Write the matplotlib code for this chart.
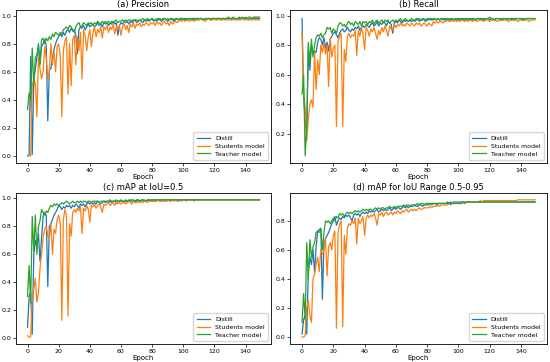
import matplotlib
matplotlib.use("Agg")
import matplotlib.pyplot as plt

# (a) Precision
prec_distill = [
    0.00, 0.01, 0.71, 0.01, 0.55, 0.62, 0.70, 0.80, 0.66, 0.78,
    0.80, 0.83, 0.79, 0.25, 0.62, 0.62, 0.70, 0.76, 0.80, 0.83,
    0.85, 0.87, 0.85, 0.88, 0.86, 0.89, 0.90, 0.88, 0.91, 0.89,
    0.90, 0.86, 0.73, 0.90, 0.92, 0.91, 0.93, 0.90, 0.92, 0.94,
    0.92, 0.93, 0.94, 0.92, 0.93, 0.95, 0.93, 0.94, 0.92, 0.95,
    0.94, 0.95, 0.93, 0.95, 0.94, 0.96, 0.94, 0.95, 0.86, 0.93,
    0.95, 0.94, 0.96, 0.95, 0.96, 0.94, 0.96, 0.95, 0.96, 0.97,
    0.95, 0.96, 0.97, 0.96, 0.95, 0.97, 0.96, 0.97, 0.96, 0.97,
    0.98, 0.96, 0.97, 0.96, 0.98, 0.97, 0.96, 0.97, 0.98, 0.97,
    0.96, 0.97, 0.98, 0.97, 0.96, 0.97, 0.98, 0.97, 0.98, 0.97,
    0.98, 0.97, 0.98, 0.97, 0.98, 0.97, 0.98, 0.98, 0.97, 0.98,
    0.97, 0.98, 0.98, 0.97, 0.98, 0.97, 0.98, 0.98, 0.97, 0.98,
    0.98, 0.97, 0.98, 0.98, 0.97, 0.98, 0.98, 0.97, 0.98, 0.98,
    0.98, 0.97, 0.98, 0.98, 0.98, 0.97, 0.98, 0.98, 0.98, 0.98,
    0.98, 0.98, 0.97, 0.98, 0.98, 0.98, 0.98, 0.98, 0.98, 0.98,
]
prec_student = [
    0.00, 0.00, 0.00, 0.50, 0.55, 0.52, 0.28, 0.70, 0.62, 0.55,
    0.60, 0.78, 0.70, 0.55, 0.60, 0.80, 0.65, 0.75, 0.60, 0.78,
    0.80, 0.72, 0.28, 0.75, 0.82, 0.85, 0.44, 0.80, 0.50, 0.83,
    0.86, 0.65, 0.85, 0.75, 0.88, 0.55, 0.90, 0.86, 0.75, 0.85,
    0.90, 0.78, 0.88, 0.92, 0.85, 0.90, 0.88, 0.92, 0.84, 0.92,
    0.90, 0.93, 0.88, 0.92, 0.90, 0.94, 0.87, 0.92, 0.90, 0.93,
    0.86, 0.92, 0.94, 0.90, 0.93, 0.88, 0.94, 0.92, 0.95, 0.91,
    0.94, 0.93, 0.95, 0.92, 0.94, 0.93, 0.95, 0.94, 0.93, 0.95,
    0.94, 0.95, 0.93, 0.96, 0.94, 0.95, 0.93, 0.95, 0.96, 0.94,
    0.95, 0.93, 0.96, 0.94, 0.95, 0.96, 0.95, 0.96, 0.97, 0.96,
    0.97, 0.96, 0.97, 0.97, 0.96, 0.97, 0.97, 0.96, 0.97, 0.97,
    0.97, 0.98, 0.97, 0.97, 0.96, 0.97, 0.98, 0.97, 0.97, 0.97,
    0.98, 0.97, 0.97, 0.98, 0.97, 0.97, 0.97, 0.98, 0.97, 0.97,
    0.97, 0.98, 0.97, 0.97, 0.97, 0.98, 0.97, 0.97, 0.98, 0.97,
    0.97, 0.97, 0.98, 0.97, 0.97, 0.97, 0.97, 0.97, 0.97, 0.97,
]
prec_teacher = [
    0.33, 0.45, 0.40, 0.77, 0.50, 0.70, 0.72, 0.78, 0.65, 0.83,
    0.84, 0.80, 0.84, 0.82, 0.85, 0.83, 0.87, 0.85, 0.88, 0.87,
    0.86, 0.88, 0.87, 0.90, 0.91, 0.92, 0.90, 0.93, 0.92, 0.90,
    0.88, 0.92, 0.94, 0.95, 0.92, 0.93, 0.95, 0.94, 0.93, 0.95,
    0.94, 0.95, 0.93, 0.95, 0.94, 0.96, 0.95, 0.94, 0.96, 0.95,
    0.96, 0.95, 0.96, 0.94, 0.96, 0.95, 0.96, 0.97, 0.95, 0.96,
    0.96, 0.97, 0.96, 0.97, 0.96, 0.97, 0.97, 0.96, 0.97, 0.97,
    0.97, 0.96, 0.97, 0.97, 0.98, 0.97, 0.97, 0.98, 0.97, 0.97,
    0.98, 0.97, 0.97, 0.98, 0.97, 0.98, 0.97, 0.98, 0.98, 0.97,
    0.98, 0.97, 0.98, 0.98, 0.97, 0.98, 0.98, 0.97, 0.98, 0.98,
    0.98, 0.98, 0.97, 0.98, 0.98, 0.98, 0.97, 0.98, 0.98, 0.98,
    0.98, 0.98, 0.98, 0.97, 0.98, 0.98, 0.98, 0.98, 0.98, 0.98,
    0.98, 0.98, 0.98, 0.98, 0.98, 0.98, 0.98, 0.98, 0.98, 0.99,
    0.98, 0.98, 0.99, 0.98, 0.98, 0.98, 0.99, 0.98, 0.99, 0.98,
    0.99, 0.98, 0.99, 0.99, 0.98, 0.99, 0.99, 0.99, 0.99, 0.99,
]

# (b) Recall
rec_distill = [
    0.98, 0.45, 0.30, 0.20, 0.78, 0.63, 0.80, 0.74, 0.76, 0.75,
    0.82, 0.85, 0.84, 0.80, 0.85, 0.78, 0.82, 0.76, 0.84, 0.86,
    0.88, 0.89, 0.87, 0.85, 0.88, 0.90, 0.91, 0.89, 0.90, 0.92,
    0.90, 0.89, 0.91, 0.90, 0.92, 0.91, 0.93, 0.90, 0.92, 0.93,
    0.92, 0.94, 0.93, 0.92, 0.94, 0.95, 0.93, 0.94, 0.96, 0.93,
    0.95, 0.94, 0.96, 0.95, 0.93, 0.96, 0.95, 0.94, 0.88, 0.95,
    0.96, 0.95, 0.97, 0.96, 0.95, 0.97, 0.96, 0.97, 0.96, 0.97,
    0.96, 0.97, 0.96, 0.97, 0.98, 0.96, 0.97, 0.98, 0.97, 0.96,
    0.97, 0.98, 0.97, 0.98, 0.97, 0.98, 0.97, 0.98, 0.97, 0.98,
    0.97, 0.98, 0.97, 0.97, 0.98, 0.97, 0.98, 0.97, 0.98, 0.97,
    0.98, 0.97, 0.98, 0.98, 0.97, 0.98, 0.97, 0.98, 0.98, 0.97,
    0.98, 0.97, 0.98, 0.98, 0.97, 0.98, 0.98, 0.97, 0.98, 0.98,
    0.97, 0.98, 0.98, 0.97, 0.98, 0.98, 0.98, 0.97, 0.98, 0.98,
    0.98, 0.97, 0.98, 0.98, 0.98, 0.98, 0.97, 0.98, 0.98, 0.98,
    0.98, 0.98, 0.97, 0.98, 0.98, 0.98, 0.98, 0.98, 0.98, 0.98,
]
rec_student = [
    0.88, 0.47, 0.38, 0.15, 0.30, 0.40, 0.43, 0.38, 0.75, 0.50,
    0.70, 0.60, 0.80, 0.75, 0.82, 0.74, 0.80, 0.52, 0.85, 0.72,
    0.78, 0.80, 0.25, 0.82, 0.86, 0.88, 0.25, 0.77, 0.69, 0.86,
    0.88, 0.85, 0.87, 0.86, 0.90, 0.73, 0.90, 0.86, 0.92, 0.87,
    0.77, 0.92, 0.90, 0.86, 0.91, 0.89, 0.92, 0.88, 0.84, 0.90,
    0.87, 0.92, 0.89, 0.93, 0.90, 0.86, 0.93, 0.91, 0.90, 0.94,
    0.92, 0.94, 0.93, 0.95, 0.93, 0.94, 0.93, 0.95, 0.94, 0.93,
    0.95, 0.94, 0.93, 0.95, 0.94, 0.95, 0.93, 0.94, 0.95, 0.94,
    0.93, 0.95, 0.94, 0.93, 0.96, 0.95, 0.96, 0.95, 0.96, 0.96,
    0.95, 0.96, 0.96, 0.97, 0.96, 0.96, 0.97, 0.96, 0.97, 0.96,
    0.97, 0.96, 0.97, 0.97, 0.96, 0.97, 0.96, 0.97, 0.97, 0.96,
    0.97, 0.97, 0.96, 0.97, 0.97, 0.97, 0.96, 0.97, 0.97, 0.97,
    0.96, 0.97, 0.97, 0.97, 0.97, 0.96, 0.97, 0.97, 0.97, 0.97,
    0.97, 0.97, 0.96, 0.97, 0.97, 0.97, 0.97, 0.97, 0.96, 0.97,
    0.97, 0.97, 0.97, 0.97, 0.97, 0.96, 0.97, 0.97, 0.97, 0.97,
]
rec_teacher = [
    0.47, 0.60, 0.05, 0.25, 0.82, 0.68, 0.84, 0.72, 0.80, 0.85,
    0.87, 0.86, 0.88, 0.85, 0.87, 0.88, 0.92, 0.91, 0.92, 0.88,
    0.91, 0.90, 0.88, 0.93, 0.95, 0.95, 0.93, 0.94, 0.92, 0.95,
    0.96, 0.94, 0.95, 0.93, 0.96, 0.95, 0.94, 0.96, 0.93, 0.96,
    0.95, 0.96, 0.94, 0.96, 0.95, 0.97, 0.94, 0.96, 0.97, 0.95,
    0.96, 0.97, 0.95, 0.97, 0.96, 0.97, 0.95, 0.96, 0.97, 0.96,
    0.97, 0.96, 0.97, 0.98, 0.96, 0.97, 0.98, 0.97, 0.96, 0.97,
    0.98, 0.97, 0.97, 0.98, 0.97, 0.98, 0.97, 0.97, 0.98, 0.97,
    0.98, 0.97, 0.98, 0.97, 0.98, 0.98, 0.97, 0.98, 0.97, 0.98,
    0.98, 0.97, 0.98, 0.98, 0.97, 0.98, 0.98, 0.97, 0.98, 0.98,
    0.97, 0.98, 0.98, 0.97, 0.98, 0.98, 0.98, 0.97, 0.98, 0.98,
    0.98, 0.97, 0.98, 0.98, 0.98, 0.98, 0.97, 0.98, 0.98, 0.98,
    0.99, 0.98, 0.98, 0.97, 0.98, 0.98, 0.98, 0.98, 0.97, 0.98,
    0.98, 0.98, 0.98, 0.98, 0.97, 0.98, 0.98, 0.98, 0.98, 0.98,
    0.98, 0.97, 0.98, 0.98, 0.98, 0.98, 0.98, 0.98, 0.98, 0.98,
]

# (c) mAP at IoU=0.5
map50_distill = [
    0.08, 0.30, 0.33, 0.03, 0.60, 0.70, 0.65, 0.75, 0.55, 0.72,
    0.87, 0.90, 0.88, 0.37, 0.80, 0.82, 0.85, 0.88, 0.90, 0.92,
    0.95, 0.94, 0.92, 0.94, 0.93, 0.95, 0.94, 0.95, 0.93, 0.95,
    0.94, 0.96, 0.95, 0.93, 0.96, 0.95, 0.96, 0.94, 0.96, 0.97,
    0.96, 0.97, 0.96, 0.97, 0.96, 0.98, 0.97, 0.96, 0.97, 0.98,
    0.97, 0.98, 0.97, 0.98, 0.97, 0.98, 0.98, 0.97, 0.98, 0.98,
    0.98, 0.98, 0.97, 0.98, 0.98, 0.98, 0.99, 0.98, 0.98, 0.98,
    0.98, 0.99, 0.98, 0.98, 0.99, 0.98, 0.98, 0.99, 0.98, 0.99,
    0.98, 0.99, 0.98, 0.99, 0.99, 0.98, 0.99, 0.99, 0.98, 0.99,
    0.99, 0.99, 0.98, 0.99, 0.99, 0.99, 0.99, 0.98, 0.99, 0.99,
    0.99, 0.99, 0.99, 0.99, 0.99, 0.99, 0.99, 0.99, 0.99, 0.99,
    0.99, 0.99, 0.99, 0.99, 0.99, 0.99, 0.99, 0.99, 0.99, 0.99,
    0.99, 0.99, 0.99, 0.99, 0.99, 0.99, 0.99, 0.99, 0.99, 0.99,
    0.99, 0.99, 0.99, 0.99, 0.99, 0.99, 0.99, 0.99, 0.99, 0.99,
    0.99, 0.99, 0.99, 0.99, 0.99, 0.99, 0.99, 0.99, 0.99, 0.99,
]
map50_student = [
    0.02, 0.01, 0.01, 0.30, 0.35, 0.43, 0.26, 0.33, 0.50, 0.60,
    0.72, 0.78, 0.80, 0.73, 0.72, 0.82, 0.60, 0.78, 0.75, 0.85,
    0.88, 0.82, 0.13, 0.85, 0.92, 0.88, 0.16, 0.82, 0.73, 0.90,
    0.92, 0.90, 0.93, 0.91, 0.94, 0.75, 0.93, 0.91, 0.95, 0.92,
    0.83, 0.95, 0.94, 0.96, 0.93, 0.95, 0.96, 0.94, 0.90, 0.96,
    0.95, 0.96, 0.97, 0.95, 0.96, 0.97, 0.95, 0.97, 0.96, 0.97,
    0.96, 0.97, 0.98, 0.96, 0.97, 0.98, 0.97, 0.96, 0.98, 0.97,
    0.97, 0.98, 0.97, 0.98, 0.97, 0.98, 0.98, 0.97, 0.98, 0.98,
    0.98, 0.98, 0.98, 0.98, 0.99, 0.98, 0.98, 0.98, 0.99, 0.98,
    0.98, 0.99, 0.98, 0.99, 0.98, 0.99, 0.98, 0.99, 0.99, 0.98,
    0.99, 0.99, 0.98, 0.99, 0.99, 0.99, 0.99, 0.98, 0.99, 0.99,
    0.99, 0.99, 0.99, 0.99, 0.99, 0.99, 0.99, 0.99, 0.99, 0.99,
    0.99, 0.99, 0.99, 0.99, 0.99, 0.99, 0.99, 0.99, 0.99, 0.99,
    0.99, 0.99, 0.99, 0.99, 0.99, 0.99, 0.99, 0.99, 0.99, 0.99,
    0.99, 0.99, 0.99, 0.99, 0.99, 0.99, 0.99, 0.99, 0.99, 0.99,
]
map50_teacher = [
    0.30, 0.52, 0.25, 0.87, 0.62, 0.88, 0.60, 0.80, 0.84, 0.92,
    0.90, 0.88, 0.91, 0.90, 0.93, 0.95, 0.94, 0.96, 0.95, 0.96,
    0.95, 0.96, 0.97, 0.96, 0.97, 0.98, 0.97, 0.96, 0.97, 0.98,
    0.97, 0.97, 0.98, 0.97, 0.98, 0.97, 0.98, 0.98, 0.97, 0.98,
    0.98, 0.97, 0.98, 0.98, 0.98, 0.98, 0.97, 0.98, 0.98, 0.98,
    0.98, 0.98, 0.98, 0.99, 0.98, 0.98, 0.98, 0.99, 0.98, 0.98,
    0.99, 0.98, 0.98, 0.99, 0.98, 0.99, 0.98, 0.99, 0.99, 0.98,
    0.99, 0.99, 0.98, 0.99, 0.99, 0.99, 0.98, 0.99, 0.99, 0.99,
    0.99, 0.99, 0.99, 0.99, 0.99, 0.99, 0.99, 0.99, 0.99, 0.99,
    0.99, 0.99, 0.99, 0.99, 0.99, 0.99, 0.99, 0.99, 0.99, 0.99,
    0.99, 0.99, 0.99, 0.99, 0.99, 0.99, 0.99, 0.99, 0.99, 0.99,
    0.99, 0.99, 0.99, 0.99, 0.99, 0.99, 0.99, 0.99, 0.99, 0.99,
    0.99, 0.99, 0.99, 0.99, 0.99, 0.99, 0.99, 0.99, 0.99, 0.99,
    0.99, 0.99, 0.99, 0.99, 0.99, 0.99, 0.99, 0.99, 0.99, 0.99,
    0.99, 0.99, 0.99, 0.99, 0.99, 0.99, 0.99, 0.99, 0.99, 0.99,
]

# (d) mAP for IoU range 0.5-0.95
map95_distill = [
    0.02, 0.12, 0.15, 0.02, 0.45, 0.55, 0.50, 0.60, 0.45, 0.62,
    0.73, 0.74, 0.75, 0.26, 0.65, 0.68, 0.70, 0.72, 0.75, 0.78,
    0.80, 0.83, 0.77, 0.80, 0.82, 0.81, 0.83, 0.82, 0.84, 0.83,
    0.84, 0.82, 0.80, 0.84, 0.85, 0.84, 0.85, 0.83, 0.85, 0.86,
    0.85, 0.86, 0.85, 0.87, 0.86, 0.87, 0.86, 0.87, 0.88, 0.86,
    0.87, 0.88, 0.87, 0.88, 0.87, 0.88, 0.89, 0.87, 0.88, 0.89,
    0.88, 0.89, 0.89, 0.88, 0.89, 0.90, 0.89, 0.90, 0.89, 0.90,
    0.90, 0.90, 0.91, 0.90, 0.90, 0.91, 0.91, 0.90, 0.91, 0.91,
    0.91, 0.91, 0.92, 0.91, 0.92, 0.92, 0.91, 0.92, 0.92, 0.92,
    0.92, 0.92, 0.92, 0.93, 0.92, 0.93, 0.92, 0.93, 0.93, 0.93,
    0.93, 0.93, 0.93, 0.93, 0.93, 0.93, 0.93, 0.93, 0.93, 0.93,
    0.93, 0.93, 0.93, 0.93, 0.93, 0.93, 0.93, 0.93, 0.93, 0.93,
    0.93, 0.93, 0.93, 0.93, 0.93, 0.93, 0.93, 0.93, 0.93, 0.93,
    0.93, 0.93, 0.93, 0.93, 0.93, 0.93, 0.93, 0.93, 0.93, 0.93,
    0.93, 0.93, 0.93, 0.93, 0.93, 0.93, 0.93, 0.93, 0.93, 0.93,
]
map95_student = [
    0.00, 0.00, 0.01, 0.20, 0.25, 0.15, 0.10, 0.40, 0.43, 0.50,
    0.55, 0.45, 0.60, 0.57, 0.60, 0.68, 0.42, 0.62, 0.65, 0.60,
    0.70, 0.73, 0.06, 0.72, 0.78, 0.80, 0.07, 0.70, 0.57, 0.75,
    0.78, 0.77, 0.80, 0.78, 0.82, 0.64, 0.82, 0.78, 0.80, 0.83,
    0.70, 0.82, 0.84, 0.82, 0.84, 0.83, 0.85, 0.82, 0.77, 0.85,
    0.84, 0.86, 0.83, 0.85, 0.86, 0.84, 0.85, 0.86, 0.84, 0.86,
    0.85, 0.87, 0.86, 0.85, 0.87, 0.86, 0.87, 0.88, 0.86, 0.87,
    0.88, 0.87, 0.88, 0.87, 0.88, 0.89, 0.88, 0.88, 0.89, 0.89,
    0.89, 0.89, 0.90, 0.89, 0.90, 0.90, 0.90, 0.91, 0.90, 0.91,
    0.91, 0.91, 0.91, 0.91, 0.92, 0.91, 0.92, 0.92, 0.92, 0.92,
    0.92, 0.92, 0.92, 0.93, 0.92, 0.93, 0.93, 0.93, 0.93, 0.93,
    0.93, 0.93, 0.93, 0.93, 0.94, 0.93, 0.94, 0.94, 0.94, 0.94,
    0.94, 0.94, 0.94, 0.94, 0.94, 0.94, 0.94, 0.94, 0.94, 0.94,
    0.94, 0.94, 0.94, 0.94, 0.94, 0.94, 0.94, 0.94, 0.945, 0.945,
    0.945, 0.945, 0.945, 0.945, 0.945, 0.945, 0.945, 0.945, 0.945, 0.945,
]
map95_teacher = [
    0.10, 0.30, 0.12, 0.65, 0.40, 0.67, 0.55, 0.62, 0.65, 0.72,
    0.73, 0.72, 0.74, 0.60, 0.72, 0.80, 0.79, 0.80, 0.78, 0.80,
    0.82, 0.80, 0.83, 0.82, 0.85, 0.84, 0.85, 0.83, 0.85, 0.86,
    0.85, 0.86, 0.85, 0.86, 0.87, 0.86, 0.87, 0.86, 0.87, 0.88,
    0.87, 0.88, 0.87, 0.88, 0.88, 0.87, 0.88, 0.89, 0.88, 0.89,
    0.88, 0.89, 0.89, 0.88, 0.89, 0.89, 0.90, 0.89, 0.89, 0.90,
    0.89, 0.90, 0.90, 0.90, 0.90, 0.91, 0.90, 0.91, 0.91, 0.90,
    0.91, 0.91, 0.91, 0.91, 0.92, 0.91, 0.92, 0.92, 0.91, 0.92,
    0.92, 0.92, 0.92, 0.92, 0.92, 0.92, 0.92, 0.92, 0.92, 0.92,
    0.92, 0.92, 0.92, 0.92, 0.92, 0.92, 0.92, 0.92, 0.92, 0.92,
    0.92, 0.92, 0.92, 0.93, 0.92, 0.93, 0.93, 0.93, 0.93, 0.93,
    0.93, 0.93, 0.93, 0.93, 0.93, 0.93, 0.93, 0.93, 0.93, 0.93,
    0.93, 0.93, 0.93, 0.93, 0.93, 0.93, 0.93, 0.93, 0.93, 0.93,
    0.93, 0.93, 0.93, 0.93, 0.93, 0.93, 0.93, 0.93, 0.93, 0.93,
    0.93, 0.93, 0.93, 0.93, 0.93, 0.93, 0.93, 0.93, 0.93, 0.93,
]

titles = ['(a) Precision', '(b) Recall', '(c) mAP at IoU=0.5',
          '(d) mAP for IoU Range 0.5-0.95']
labels = ['Distill', 'Students model', 'Teacher model']
panels = [
    (prec_distill, prec_student, prec_teacher),
    (rec_distill, rec_student, rec_teacher),
    (map50_distill, map50_student, map50_teacher),
    (map95_distill, map95_student, map95_teacher),
]

# axes boxes in figure fractions [left, bottom, width, height]
boxes = [
    [0.029, 0.550, 0.464, 0.422],
    [0.528, 0.550, 0.466, 0.422],
    [0.029, 0.050, 0.464, 0.417],
    [0.528, 0.050, 0.466, 0.417],
]

fig = plt.figure(figsize=(5.5, 3.62), dpi=100)
for box, title, series in zip(boxes, titles, panels):
    ax = fig.add_axes(box)
    for s, lab in zip(series, labels):
        ax.plot(range(len(s)), s, label=lab, linewidth=0.9)
    ax.set_title(title, fontsize=6, pad=2)
    ax.set_xlabel('Epoch', fontsize=5, labelpad=1)
    ax.set_xticks([0, 20, 40, 60, 80, 100, 120, 140])
    ax.tick_params(labelsize=4.5, length=2, width=0.5, pad=1.5)
    for sp in ax.spines.values():
        sp.set_linewidth(0.6)
    ax.legend(loc='lower right', fontsize=4.5, handlelength=2.2,
              borderpad=0.5, labelspacing=0.4, framealpha=0.8)

fig.savefig('out.png', dpi=100)
